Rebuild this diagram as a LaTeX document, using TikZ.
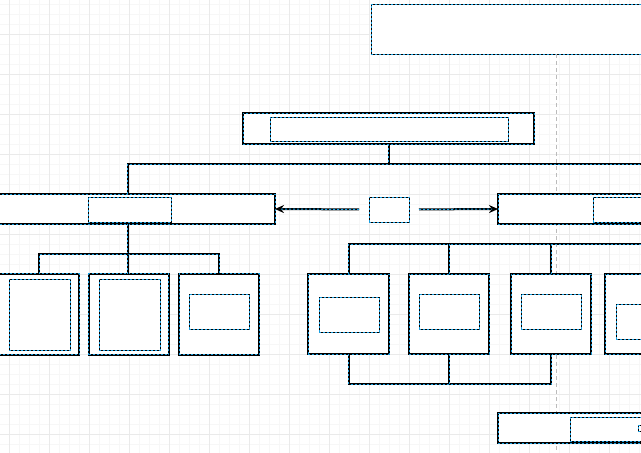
\documentclass[tikz,border=0pt]{standalone}
\usetikzlibrary{arrows.meta}
\definecolor{dblue}{HTML}{1A9FE0}
\definecolor{gmin}{HTML}{F7F7F7}
\definecolor{gmaj}{HTML}{EAEAEA}
\definecolor{guidegray}{HTML}{BBBBBB}
\tikzset{
 obox/.style={rectangle, fill=white, draw=black, line width=2pt, inner sep=0pt, outer sep=0pt, anchor=north west,
   postaction={draw=dblue, line width=1pt, dash pattern=on 2pt off 2pt}},
 ibox/.style={rectangle, fill=white, draw=black, line width=1pt, inner sep=0pt, outer sep=0pt, anchor=north west,
   postaction={draw=dblue, line width=1pt, dash pattern=on 2pt off 2pt}},
 conn/.style={draw=black, line width=2pt,
   postaction={draw=dblue, line width=1pt, dash pattern=on 2pt off 2pt}},
 aconn/.style={draw=black, line width=2pt, -{Stealth[length=9pt,width=8pt]},
   postaction={draw=dblue, line width=1pt, dash pattern=on 2pt off 2pt, -, shorten >=6pt}},
 guide/.style={draw=guidegray, line width=0.8pt, dash pattern=on 4pt off 3pt},
 sz/.style 2 args={minimum width=#1, minimum height=#2},
}
\begin{document}
\begin{tikzpicture}[x=1pt,y=-1pt]
\useasboundingbox (0,0) rectangle (641,453);
\clip (0,0) rectangle (641,453);
\fill[white] (0,0) rectangle (641,453);
% grid
\foreach \v in {-0.5,9.5,...,645} {\draw[gmin, line width=0.6pt] (\v,0) -- (\v,453);}
\foreach \v in {4.5,14.5,...,460} {\draw[gmin, line width=0.6pt] (0,\v) -- (641,\v);}
\foreach \v in {9.5,49.5,...,645} {\draw[gmaj, line width=0.8pt] (\v,0) -- (\v,453);}
\foreach \v in {34.5,74.5,...,460} {\draw[gmaj, line width=0.8pt] (0,\v) -- (641,\v);}

% top box and guide
\node[ibox, sz={370}{50}] (top) at (371,4) {};
\draw[guide] (top.south) -- (top.south |- 0,453);

% root
\node[obox, sz={291}{31}] (root) at (243,113) {};
\node[ibox, sz={238}{24}] (rooti) at (270,117) {};

% middle row
\node[obox, sz={295}{30}] (lmid) at (-20,194) {};
\node[ibox, sz={83}{25}] (lmidi) at (88,197) {};
\node[ibox, sz={40}{25}] (mid) at (369,197) {};
\node[obox, sz={294}{30}] (rmid) at (498,194) {};
\node[ibox, sz={100}{25}] (rmidi) at (593,197) {};

% left children
\node[obox, sz={80}{81}] (lc1) at (-1,273.5) {};
\node[ibox, sz={61}{71}] (lc1i) at (9,279) {};
\node[obox, sz={80}{81}] (lc2) at (88.5,273.5) {};
\node[ibox, sz={61}{71}] (lc2i) at (99,279) {};
\node[obox, sz={80}{81}] (lc3) at (179,273.5) {};
\node[ibox, sz={60}{35}] (lc3i) at (189,294) {};

% right children
\node[obox, sz={81}{80}] (rc1) at (308,274) {};
\node[ibox, sz={60}{35}] (rc1i) at (319,297) {};
\node[obox, sz={80}{80}] (rc2) at (409,274) {};
\node[ibox, sz={60}{35}] (rc2i) at (419,294) {};
\node[obox, sz={80}{80}] (rc3) at (511,274) {};
\node[ibox, sz={60}{35}] (rc3i) at (521,294) {};
\node[obox, sz={80}{80}] (rc4) at (605,274) {};
\node[ibox, sz={60}{35}] (rc4i) at (616,304) {};

% bottom box
\node[obox, sz={294}{30}] (bot) at (498,413) {};
\node[ibox, sz={100}{24}] (boti) at (570,417) {};
\node[ibox, sz={6}{6}] (botdot) at (638,425) {};

% connectors
\coordinate (hbus) at (0,164);
\coordinate (lbus) at (0,254);
\coordinate (rbus) at (0,244);
\coordinate (bbus) at (0,384);
\draw[conn] (root.south) -- (root.south |- hbus);
\draw[conn] (lmid.north) |- (rmid.north |- hbus) -- (rmid.north);
\draw[conn] (lmid.south) -- (lmid.south |- lc2.north);
\draw[conn] (lc1.north) |- (lc2.north |- lbus) -| (lc3.north);
\draw[conn] (rmid.south) -- (rc4.north);
\draw[conn] (rc1.north) |- (rc4.north |- rbus);
\draw[conn] (rc2.north) -- (rc2.north |- rbus);
\draw[conn] (rc3.north) -- (rc3.north |- rbus);
\draw[conn] (rc1.south) |- (rc3.south |- bbus) -- (rc3.south);
\draw[conn] (rc2.south) -- (rc2.south |- bbus);

% arrows
\draw[aconn, shorten <=10pt] (mid.west) -- (lmid.east);
\draw[aconn, shorten <=10pt] (mid.east) -- (rmid.west);
\end{tikzpicture}
\end{document}
